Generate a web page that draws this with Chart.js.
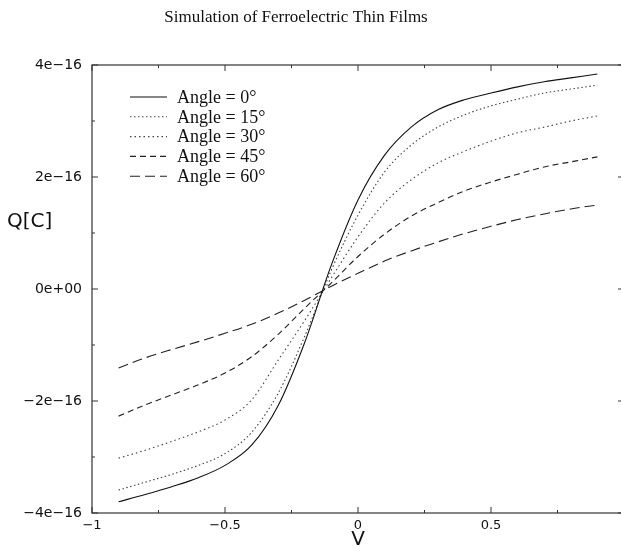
<!DOCTYPE html>
<html>
<head>
<meta charset="utf-8">
<script src="https://cdn.jsdelivr.net/npm/chart.js@4"></script>
<style>
  html, body { margin: 0; padding: 0; background: #fff; overflow: hidden; }
  #wrap { width: 640px; height: 551px; }
</style>
</head>
<body>
<div id="wrap"><canvas id="qvChart" width="640" height="551"></canvas></div>
<script>
// charge Q in units of 1e-16 C
const voltages = [-0.9, -0.8, -0.7, -0.6, -0.5, -0.4, -0.3, -0.2, -0.1, 0, 0.1, 0.2, 0.3, 0.4, 0.5, 0.6, 0.7, 0.8, 0.9];
const angle0  = [-3.80, -3.67, -3.53, -3.37, -3.15, -2.79, -2.08, -0.95, 0.43, 1.59, 2.39, 2.89, 3.20, 3.38, 3.50, 3.61, 3.70, 3.77, 3.84];
const angle15 = [-3.59, -3.45, -3.31, -3.15, -2.94, -2.56, -1.86, -0.84, 0.34, 1.32, 2.09, 2.57, 2.89, 3.11, 3.27, 3.39, 3.50, 3.57, 3.64];
const angle30 = [-3.02, -2.88, -2.72, -2.55, -2.34, -1.98, -1.27, -0.56, 0.20, 0.93, 1.54, 1.95, 2.25, 2.46, 2.64, 2.79, 2.89, 3.00, 3.09];
const angle45 = [-2.27, -2.07, -1.89, -1.71, -1.50, -1.21, -0.81, -0.34, 0.11, 0.58, 0.98, 1.30, 1.54, 1.75, 1.91, 2.05, 2.18, 2.27, 2.36];
const angle60 = [-1.41, -1.23, -1.08, -0.94, -0.79, -0.63, -0.43, -0.20, 0.05, 0.28, 0.50, 0.68, 0.84, 0.99, 1.12, 1.24, 1.34, 1.43, 1.50];
const seriesLabels = ['Angle = 0°', 'Angle = 15°', 'Angle = 30°', 'Angle = 45°', 'Angle = 60°'];
const xMinorTicks = [-1, -0.75, -0.5, -0.25, 0, 0.25, 0.5, 0.75, 1];
const yMinorTicks = [-4, -3, -2, -1, 0, 1, 2, 3, 4];

const titleText = 'Simulation of Ferroelectric Thin Films';
const sansFont = "'DejaVu Sans', sans-serif";
const serifFont = "'Liberation Serif', serif";

function toPoints(arr) {
    return voltages.map((v, i) => ({ x: v, y: arr[i] }));
}

function fmtY(v) {
    if (v === 0) return '0e+00';
    return (v < 0 ? '\u2212' : '') + Math.abs(v) + 'e\u221216';
}

function fmtX(v) {
    return (v < 0 ? '\u2212' : '') + Math.abs(v);
}

const styles = [
    { color: '#111', dash: [] },
    { color: '#444', dash: [1.5, 2.5] },
    { color: '#444', dash: [1.5, 3] },
    { color: '#222', dash: [6, 4] },
    { color: '#222', dash: [10, 5] }
];

const allSeries = [angle0, angle15, angle30, angle45, angle60];

const datasets = allSeries.map((arr, i) => ({
    label: seriesLabels[i],
    data: toPoints(arr),
    borderColor: styles[i].color,
    borderDash: styles[i].dash,
    borderWidth: 1.1,
    pointRadius: 0,
    fill: false,
    cubicInterpolationMode: 'monotone'
}));

// frame, inward ticks, axis names, title, legend
const decorPlugin = {
    id: 'decor',
    afterDraw(chart) {
        const { ctx, chartArea: a, scales: { x, y } } = chart;
        ctx.save();
        ctx.strokeStyle = '#333';
        ctx.lineWidth = 1.2;
        ctx.strokeRect(a.left, a.top, a.right - a.left, a.bottom - a.top);

        ctx.lineWidth = 1;
        xMinorTicks.forEach(v => {
            const px = x.getPixelForValue(v);
            const len = (v * 2) % 1 === 0 ? 6 : 3;
            ctx.beginPath();
            ctx.moveTo(px, a.bottom); ctx.lineTo(px, a.bottom - len);
            ctx.moveTo(px, a.top); ctx.lineTo(px, a.top + len);
            ctx.stroke();
        });
        yMinorTicks.forEach(v => {
            const py = y.getPixelForValue(v);
            const len = v % 2 === 0 ? 6 : 3;
            ctx.beginPath();
            ctx.moveTo(a.left, py); ctx.lineTo(a.left + len, py);
            ctx.moveTo(a.right, py); ctx.lineTo(a.right - len, py);
            ctx.stroke();
        });

        ctx.fillStyle = '#111';
        ctx.font = '20px ' + sansFont;
        ctx.textBaseline = 'middle';
        ctx.textAlign = 'left';
        ctx.fillText('Q[C]', 7, 222);
        ctx.textAlign = 'center';
        ctx.fillText('V', x.getPixelForValue(0), 540);

        ctx.font = '17px ' + serifFont;
        ctx.fillText(titleText, 296, 18);

        // legend
        ctx.font = '18px ' + serifFont;
        ctx.textAlign = 'left';
        chart.data.datasets.forEach((ds, i) => {
            const ly = 97 + i * 19.8;
            ctx.strokeStyle = ds.borderColor;
            ctx.setLineDash(ds.borderDash);
            ctx.lineWidth = 1.1;
            ctx.beginPath();
            ctx.moveTo(130, ly); ctx.lineTo(167, ly);
            ctx.stroke();
            ctx.setLineDash([]);
            ctx.fillText(ds.label, 177, ly + 1);
        });
        ctx.restore();
    }
};

new Chart(document.getElementById('qvChart'), {
    type: 'line',
    data: { datasets },
    options: {
        responsive: false,
        animation: false,
        layout: { padding: { top: 65, right: 16, left: 0, bottom: 0 } },
        plugins: { legend: { display: false }, title: { display: false }, tooltip: { enabled: false } },
        scales: {
            x: {
                type: 'linear', min: -1, max: 1,
                grid: { display: false, drawTicks: false },
                border: { display: false },
                ticks: { stepSize: 0.5, padding: 5, color: '#111', font: { family: sansFont, size: 13 }, callback: v => fmtX(v), maxRotation: 0 },
                afterFit: s => { s.height = 38; }
            },
            y: {
                type: 'linear', min: -4, max: 4,
                grid: { display: false, drawTicks: false },
                border: { display: false },
                ticks: { stepSize: 2, padding: 10, color: '#111', font: { family: sansFont, size: 14 }, callback: v => fmtY(v) },
                afterFit: s => { s.width = 92; }
            }
        }
    },
    plugins: [decorPlugin]
});
</script>
</body>
</html>
